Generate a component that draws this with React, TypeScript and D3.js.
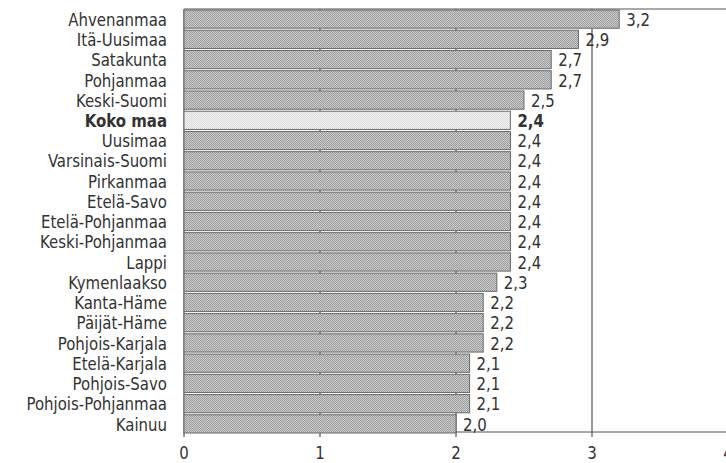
import React from "react";
import * as d3 from "d3";

const categories = [
  "Ahvenanmaa", "Itä-Uusimaa", "Satakunta", "Pohjanmaa", "Keski-Suomi", "Koko maa",
  "Uusimaa", "Varsinais-Suomi", "Pirkanmaa", "Etelä-Savo", "Etelä-Pohjanmaa",
  "Keski-Pohjanmaa", "Lappi", "Kymenlaakso", "Kanta-Häme", "Päijät-Häme",
  "Pohjois-Karjala", "Etelä-Karjala", "Pohjois-Savo", "Pohjois-Pohjanmaa", "Kainuu",
];
const values = [3.2, 2.9, 2.7, 2.7, 2.5, 2.4, 2.4, 2.4, 2.4, 2.4, 2.4, 2.4, 2.4, 2.3, 2.2, 2.2, 2.2, 2.1, 2.1, 2.1, 2.0];
const highlight = "Koko maa";
const xTicks = [0, 1, 2, 3, 4];

const W = 726, H = 463;
const FONT = "'DejaVu Sans Condensed', 'Liberation Sans Narrow', sans-serif";
const FS = 18.5;
const SX = 0.9;

function Label(props: { x: number; y: number; anchor: string; bold?: boolean; children: any }) {
  return (
    <g transform={`translate(${props.x},${props.y}) scale(${SX},1)`}>
      <text x={0} y={0} dy="0.36em" textAnchor={props.anchor} fontSize={FS}
        fontWeight={props.bold ? "bold" : "normal"} fill="#333">{props.children}</text>
    </g>
  );
}

export default function App() {
  const x = d3.scaleLinear().domain([0, 4]).range([184, 728]);
  const y = d3.scaleBand<string>().domain(categories).range([9, 432]).paddingInner(0.1).paddingOuter(0).align(0);
  const fmt = (v: number) => v.toFixed(1).replace(".", ",");
  const bw = y.bandwidth();
  const step = y.step();
  return (
    <svg width={W} height={H} style={{ position: "absolute", left: 0, top: 0, background: "#fff" }} fontFamily={FONT}>
      <defs>
        <pattern id="hatch" width="2" height="2" patternUnits="userSpaceOnUse">
          <rect width="2" height="2" fill="#cacaca" />
          <rect width="1" height="1" fill="#9e9e9e" />
          <rect x="1" y="1" width="1" height="1" fill="#9e9e9e" />
        </pattern>
        <pattern id="hatchLight" width="2" height="2" patternUnits="userSpaceOnUse">
          <rect width="2" height="2" fill="#f2f2f2" />
          <rect width="1" height="1" fill="#dadada" />
          <rect x="1" y="1" width="1" height="1" fill="#dadada" />
        </pattern>
      </defs>
      {xTicks.slice(1).map((t) => (
        <line key={t} x1={x(t)} x2={x(t)} y1={9} y2={437} stroke="#555" strokeWidth={1.2} />
      ))}
      <line x1={x(0)} x2={W} y1={9} y2={9} stroke="#555" strokeWidth={1.2} />
      <line x1={x(0)} x2={W} y1={432} y2={432} stroke="#555" strokeWidth={1.2} />
      <line x1={x(0)} x2={x(0)} y1={9} y2={437} stroke="#555" strokeWidth={1.2} />
      {categories.map((c, i) => {
        const yy = y(c)! + step * 0.05;
        const bold = c === highlight;
        return (
          <g key={c}>
            <rect x={x(0)} y={yy} width={x(values[i]) - x(0)} height={bw}
              fill={bold ? "url(#hatchLight)" : "url(#hatch)"} stroke="#6a6a6a" strokeWidth={1} />
            <Label x={167} y={yy + bw / 2} anchor="end" bold={bold}>{c}</Label>
            <Label x={x(values[i]) + 7} y={yy + bw / 2} anchor="start" bold={bold}>{fmt(values[i])}</Label>
          </g>
        );
      })}
      {xTicks.map((t) => (
        <g key={t} transform={`translate(${x(t)},459) scale(${SX},1)`}>
          <text x={0} y={0} textAnchor="middle" fontSize={FS} fill="#333">{t}</text>
        </g>
      ))}
    </svg>
  );
}
